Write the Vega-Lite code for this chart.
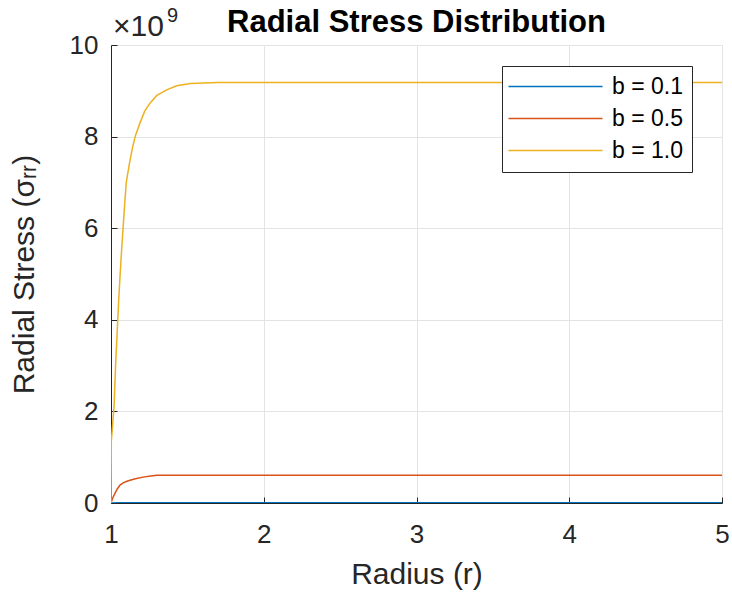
{
  "$schema": "https://vega.github.io/schema/vega-lite/v6.json",
  "autosize": {"type": "none"},
  "padding": {"left": 111, "top": 45, "right": 10, "bottom": 94},
  "width": 611,
  "height": 458,
  "background": "white",
  "title": {"text": "Radial Stress Distribution", "font": "Liberation Sans", "fontSize": 31, "fontWeight": "bold", "color": "#000000", "anchor": "middle", "baseline": "alphabetic", "offset": -27, "dy": 30},
  "config": {
    "font": "Liberation Sans",
    "view": {"stroke": null},
    "axis": {
      "labelFont": "Liberation Sans", "labelFontSize": 26, "labelColor": "#262626",
      "titleFont": "Liberation Sans", "titleFontSize": 30, "titleColor": "#262626", "titleFontWeight": "normal",
      "domainColor": "#262626", "domainWidth": 1, "tickColor": "#262626", "tickSize": -6, "tickWidth": 1,
      "gridColor": "#e3e3e3", "gridWidth": 1, "labelFlush": false
    },
    "legend": {"labelFont": "Liberation Sans", "labelFontSize": 23, "labelColor": "#000000"}
  },
  "data": {"values": [
    {"r": 1.0, "s": 0, "b": "b = 0.1"},
    {"r": 1.05, "s": 4000000, "b": "b = 0.1"},
    {"r": 1.1, "s": 6000000, "b": "b = 0.1"},
    {"r": 1.3, "s": 7000000, "b": "b = 0.1"},
    {"r": 5.0, "s": 7000000, "b": "b = 0.1"},
    {"r": 1.0, "s": 0, "b": "b = 0.5"},
    {"r": 1.01, "s": 100000000, "b": "b = 0.5"},
    {"r": 1.026, "s": 210000000, "b": "b = 0.5"},
    {"r": 1.04, "s": 300000000, "b": "b = 0.5"},
    {"r": 1.059, "s": 390000000, "b": "b = 0.5"},
    {"r": 1.08, "s": 440000000, "b": "b = 0.5"},
    {"r": 1.1, "s": 470000000, "b": "b = 0.5"},
    {"r": 1.124, "s": 495000000, "b": "b = 0.5"},
    {"r": 1.16, "s": 530000000, "b": "b = 0.5"},
    {"r": 1.21, "s": 565000000, "b": "b = 0.5"},
    {"r": 1.26, "s": 590000000, "b": "b = 0.5"},
    {"r": 1.3, "s": 605000000, "b": "b = 0.5"},
    {"r": 5.0, "s": 605000000, "b": "b = 0.5"},
    {"r": 1.0, "s": 0, "b": "b = 1.0"},
    {"r": 1.002, "s": 1350000000, "b": "b = 1.0"},
    {"r": 1.02, "s": 2100000000, "b": "b = 1.0"},
    {"r": 1.03, "s": 3000000000, "b": "b = 1.0"},
    {"r": 1.04, "s": 3700000000, "b": "b = 1.0"},
    {"r": 1.05, "s": 4400000000, "b": "b = 1.0"},
    {"r": 1.06, "s": 5000000000, "b": "b = 1.0"},
    {"r": 1.07, "s": 5550000000, "b": "b = 1.0"},
    {"r": 1.08, "s": 6050000000, "b": "b = 1.0"},
    {"r": 1.09, "s": 6550000000, "b": "b = 1.0"},
    {"r": 1.1, "s": 7000000000, "b": "b = 1.0"},
    {"r": 1.12, "s": 7400000000, "b": "b = 1.0"},
    {"r": 1.14, "s": 7750000000, "b": "b = 1.0"},
    {"r": 1.16, "s": 8020000000, "b": "b = 1.0"},
    {"r": 1.19, "s": 8300000000, "b": "b = 1.0"},
    {"r": 1.22, "s": 8550000000, "b": "b = 1.0"},
    {"r": 1.255, "s": 8730000000, "b": "b = 1.0"},
    {"r": 1.3, "s": 8900000000, "b": "b = 1.0"},
    {"r": 1.365, "s": 9020000000, "b": "b = 1.0"},
    {"r": 1.43, "s": 9110000000, "b": "b = 1.0"},
    {"r": 1.52, "s": 9160000000, "b": "b = 1.0"},
    {"r": 1.7, "s": 9180000000, "b": "b = 1.0"},
    {"r": 5.0, "s": 9180000000, "b": "b = 1.0"}
  ]},
  "layer": [
    {
      "mark": {"type": "line", "strokeWidth": 1.5, "clip": true},
      "encoding": {
        "x": {"field": "r", "type": "quantitative", "scale": {"domain": [1, 5], "nice": false}, "axis": {"title": "Radius (r)", "values": [1, 2, 3, 4, 5], "labelPadding": 24, "titlePadding": 12, "format": "d"}},
        "y": {"field": "s", "type": "quantitative", "scale": {"domain": [0, 10000000000], "nice": false}, "axis": {"title": "Radial Stress (σᵣᵣ)", "values": [0, 2000000000, 4000000000, 6000000000, 8000000000, 10000000000], "labelExpr": "format(datum.value/1e9, 'd')", "labelPadding": 19, "titlePadding": 30}},
        "color": {"field": "b", "type": "nominal", "scale": {"domain": ["b = 0.1", "b = 0.5", "b = 1.0"], "range": ["#0072BD", "#D95319", "#EDB120"]},
          "legend": {"title": null, "orient": "none", "legendX": 391, "legendY": 21, "symbolType": "M-1.4,0L8,0", "symbolSize": 400, "symbolStrokeWidth": 1.5, "symbolFillColor": "transparent", "fillColor": "white", "strokeColor": "#262626", "padding": 9, "rowPadding": 8, "labelOffset": 78}}
      }
    },
    {
      "data": {"values": [{"t": "×10"}]},
      "mark": {"type": "text", "align": "left", "baseline": "alphabetic", "dy": -9, "dx": 2, "fontSize": 30, "fontWeight": "normal", "color": "#262626", "font": "Liberation Sans"},
      "encoding": {
        "x": {"datum": 1, "type": "quantitative"},
        "y": {"datum": 10000000000, "type": "quantitative"},
        "text": {"field": "t"}
      }
    },
    {
      "data": {"values": [{"t": "9"}]},
      "mark": {"type": "text", "align": "left", "baseline": "alphabetic", "dy": -23, "dx": 56, "fontSize": 20, "fontWeight": "normal", "color": "#262626", "font": "Liberation Sans"},
      "encoding": {
        "x": {"datum": 1, "type": "quantitative"},
        "y": {"datum": 10000000000, "type": "quantitative"},
        "text": {"field": "t"}
      }
    }
  ]
}
